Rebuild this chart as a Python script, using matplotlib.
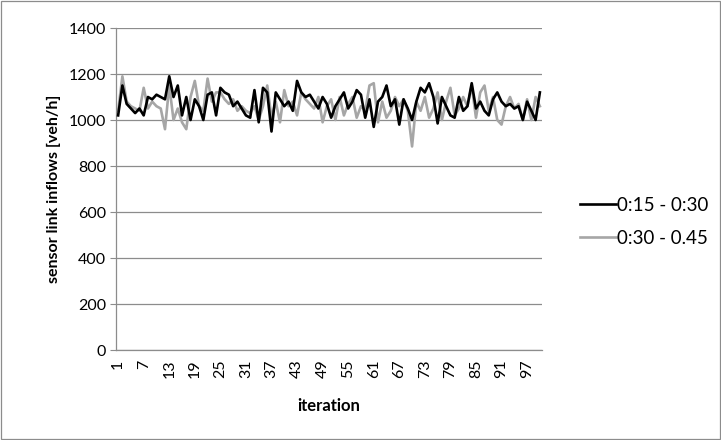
import matplotlib
matplotlib.use("Agg")
import matplotlib.pyplot as plt
from matplotlib.patches import Rectangle

iterations = list(range(1, 101))
series_a_name = "0:15 - 0:30"
series_b_name = "0:30 - 0.45"
series_a = [1020, 1150, 1070, 1050, 1030, 1050, 1020, 1100, 1090, 1110,
            1100, 1090, 1190, 1100, 1150, 1020, 1100, 1000, 1090, 1060,
            1000, 1110, 1120, 1020, 1140, 1120, 1110, 1060, 1080, 1050,
            1020, 1010, 1130, 990, 1140, 1120, 950, 1120, 1090, 1060,
            1080, 1040, 1170, 1120, 1100, 1110, 1080, 1050, 1100, 1070,
            1010, 1060, 1090, 1120, 1050, 1080, 1130, 1110, 1010, 1090,
            970, 1080, 1100, 1150, 1060, 1090, 980, 1090, 1050, 1000,
            1080, 1140, 1120, 1160, 1100, 985, 1100, 1060, 1020, 1010,
            1100, 1040, 1060, 1160, 1050, 1080, 1040, 1020, 1090, 1120,
            1080, 1060, 1070, 1050, 1060, 1000, 1080, 1040, 1000, 1120]
series_b = [1040, 1190, 1080, 1060, 1050, 1040, 1140, 1050, 1080, 1060,
            1050, 960, 1150, 1000, 1050, 990, 960, 1100, 1170, 1060,
            1040, 1180, 1080, 1120, 1120, 1090, 1070, 1090, 1040, 1060,
            1040, 1030, 1060, 1000, 1060, 1150, 1010, 1080, 990, 1130,
            1060, 1080, 1020, 1120, 1090, 1070, 1050, 1100, 990, 1060,
            1090, 1000, 1100, 1020, 1070, 1100, 1010, 1060, 1040, 1150,
            1160, 990, 1080, 1010, 1040, 1100, 1060, 1090, 1040, 885,
            1080, 1040, 1100, 1010, 1050, 1120, 1000, 1080, 1140, 1020,
            1050, 1100, 1060, 1150, 1010, 1120, 1150, 1040, 1100, 1000,
            980, 1060, 1100, 1050, 1070, 1000, 1090, 1000, 1100, 1060]
xtick_labels = [str(i) for i in range(1, 101, 6)]
yticks = list(range(0, 1401, 200))

plt.rcParams['font.family'] = ['Lato', 'DejaVu Sans']

fig = plt.figure(figsize=(7.21, 4.40), dpi=100)
fig.patches.append(Rectangle((0.002, 0.003), 0.996, 0.994, transform=fig.transFigure,
                             fill=False, edgecolor='#8c8c8c', linewidth=0.9))
ax = fig.add_axes([116/721, 1-350/440, (542-116)/721, (350-28)/440])

ax.plot(iterations, series_b, color='#a6a6a6', linewidth=1.9, label=series_b_name, zorder=3)
ax.plot(iterations, series_a, color='#000000', linewidth=1.9, label=series_a_name, zorder=4)

ax.set_xlim(0.5, 100.5)
ax.set_ylim(0, 1400)
ax.set_yticks(yticks)
ax.set_yticklabels([str(v) for v in yticks], fontsize=11.5)
ax.set_xticks(list(range(1, 101, 6)))
ax.set_xticklabels(xtick_labels, rotation=90, fontsize=11.5)
ax.grid(axis='y', color='#8c8c8c', linewidth=0.9)
ax.set_axisbelow(True)
for s in ['top', 'right']:
    ax.spines[s].set_visible(False)
for s in ['left', 'bottom']:
    ax.spines[s].set_color('#8c8c8c')
    ax.spines[s].set_linewidth(0.9)
ax.tick_params(axis='y', length=4, color='#8c8c8c', pad=3)
ax.tick_params(axis='x', length=0, pad=7)

ax.set_ylabel('sensor link inflows [veh/h]', fontsize=11.5, fontweight='bold', labelpad=6)
ax.set_xlabel('iteration', fontsize=12, fontweight='bold', labelpad=14)

handles, labels = ax.get_legend_handles_labels()
leg = fig.legend(handles[::-1], labels[::-1], loc='center left',
                 bbox_to_anchor=(563/721, 1-222/440), frameon=False, fontsize=13.5,
                 handlelength=1.9, handletextpad=0.1, labelspacing=0.85)

fig.savefig('out.png', dpi=100)
